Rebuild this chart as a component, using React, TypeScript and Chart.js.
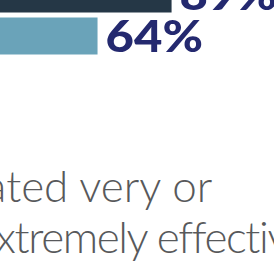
import React, { useEffect, useRef } from "react";
import { Chart, registerables } from "chart.js";

Chart.register(...registerables);

const categories = ["Top group", "Second group"];
const values = [89, 64];
const valueLabels = ["89%", "64%"];
const barColors = ["#253746", "#6aa3b9"];
const captionLines = ["rated very or", "extremely effective"];

const labelPlugin = {
  id: "barValueLabels",
  afterDatasetsDraw(chart: any) {
    const ctx = chart.ctx;
    const meta = chart.getDatasetMeta(0);
    ctx.save();
    ctx.font = "900 43px Lato";
    ctx.fillStyle = "#24296f";
    ctx.textBaseline = "middle";
    ctx.textAlign = "left";
    meta.data.forEach((el: any, i: number) => {
      ctx.save();
      ctx.translate(el.x + 8, el.y + 2);
      ctx.scale(1.14, 1);
      ctx.fillText(valueLabels[i], 0, 0);
      ctx.restore();
    });
    ctx.restore();
  },
};

export default function App() {
  const ref = useRef<HTMLCanvasElement | null>(null);
  useEffect(() => {
    if (!ref.current) return;
    const chart = new Chart(ref.current, {
      type: "bar",
      data: {
        labels: categories,
        datasets: [
          {
            data: values,
            backgroundColor: barColors,
            borderWidth: 0,
            categoryPercentage: 1,
            barPercentage: 0.88,
          },
        ],
      },
      options: {
        indexAxis: "y",
        responsive: false,
        animation: false,
        devicePixelRatio: 1,
        layout: { padding: 0 },
        plugins: {
          legend: { display: false },
          tooltip: { enabled: false },
          title: { display: false },
        },
        scales: {
          x: { display: false, min: 0, max: 130 },
          y: { display: false },
        },
      },
      plugins: [labelPlugin],
    });
    return () => chart.destroy();
  }, []);

  const textStyle: React.CSSProperties = {
    position: "fixed",
    fontFamily: "Lato, sans-serif",
    fontWeight: 300,
    fontSize: 44,
    lineHeight: "51px",
    color: "#58595b",
    whiteSpace: "nowrap",
    margin: 0,
  };

  return (
    <div style={{ position: "fixed", inset: 0, overflow: "hidden", background: "#fff" }}>
      <canvas
        ref={ref}
        width={385}
        height={84}
        style={{ position: "fixed", left: -92, top: -27, width: 385, height: 84 }}
      />
      <div style={{ ...textStyle, letterSpacing: "0px", left: -30, top: 160 }}>{captionLines[0]}</div>
      <div style={{ ...textStyle, letterSpacing: "-1.4px", left: -26, top: 211 }}>{captionLines[1]}</div>
    </div>
  );
}
